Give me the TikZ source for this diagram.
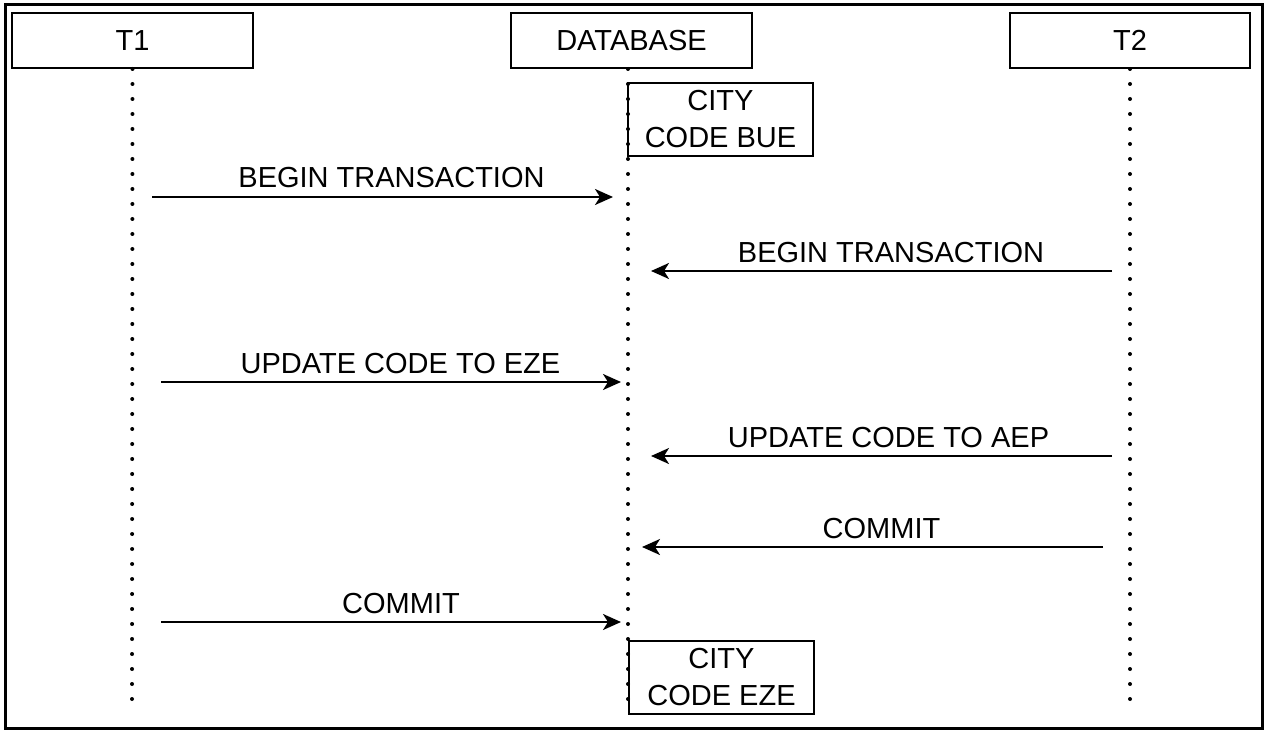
\documentclass[tikz,border=0pt]{standalone}
\usepackage{fontspec}
\setmainfont{Liberation Sans}
\usetikzlibrary{arrows.meta}
\begin{document}
\begin{tikzpicture}[x=1pt,y=-1pt,
  every node/.style={font=\fontsize{29}{37}\selectfont, inner sep=0pt},
  hdr/.style={draw, line width=2pt, minimum width=241pt, minimum height=55pt},
  state/.style={draw, line width=2pt, minimum width=185pt, minimum height=73pt, align=center},
  life/.style={line width=4pt, line cap=round, dash pattern=on 0pt off 15pt},
  msg/.style={line width=2.2pt, -{Stealth[length=18pt,width=16pt,inset=5pt]}},
  lbl/.style={anchor=base}
]
\useasboundingbox (0,0) rectangle (1268,735);
\draw[line width=3pt] (5,5) rectangle (1262,728);

% headers
\node[hdr] (t1) at (132.5,40.5) {T1};
\node[hdr] (db) at (631.5,40.5) {DATABASE};
\node[hdr, minimum width=240pt] (t2) at (1130,40.5) {T2};

% lifeline ends
\coordinate (t1end) at (132,708);
\coordinate (dbtop) at (628,69);
\coordinate (dbend) at (628,713);
\coordinate (t2end) at (1130,708);

\draw[life] (t1.south) -- (t1end);
\draw[life] (dbtop) -- (dbend);
\draw[life] (t2.south) -- (t2end);

% state boxes
\node[state] (s1) at (720.5,119.5) {CITY\\CODE BUE};
\node[state] (s2) at (721.5,677) {CITY\\CODE EZE};

% message endpoints
\coordinate (m1s) at (152,197);  \coordinate (m1e) at (613,197);
\coordinate (m2s) at (1112,271); \coordinate (m2e) at (651,271);
\coordinate (m3s) at (161,382);  \coordinate (m3e) at (621,382);
\coordinate (m4s) at (1112,456); \coordinate (m4e) at (651,456);
\coordinate (m5s) at (1103,547); \coordinate (m5e) at (642,547);
\coordinate (m6s) at (161,622);  \coordinate (m6e) at (621,622);

\draw[msg] (m1s) -- (m1e);
\draw[msg] (m2s) -- (m2e);
\draw[msg] (m3s) -- (m3e);
\draw[msg] (m4s) -- (m4e);
\draw[msg] (m5s) -- (m5e);
\draw[msg] (m6s) -- (m6e);

\node[lbl] (l1) at (391.5,188) {BEGIN TRANSACTION};
\node[lbl] (l2) at (891,262) {BEGIN TRANSACTION};
\node[lbl] (l3) at (400.5,373) {UPDATE CODE TO EZE};
\node[lbl] (l4) at (888.5,447) {UPDATE CODE TO AEP};
\node[lbl] (l5) at (881.5,538) {COMMIT};
\node[lbl] (l6) at (401,613) {COMMIT};
\end{tikzpicture}
\end{document}
